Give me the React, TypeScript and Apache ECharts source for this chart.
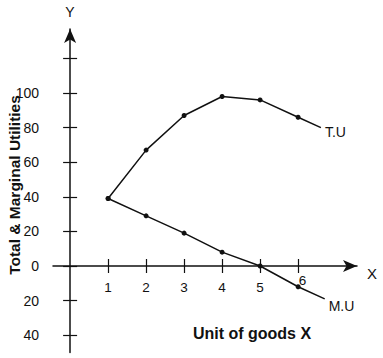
import React, { useEffect, useRef } from "react";
import * as echarts from "echarts";

const units = [1, 2, 3, 4, 5, 6];
const totalUtility = [39, 67, 87, 98, 96, 86];
const marginalUtility = [39, 29, 19, 8, 0, -12];
const tuTail = [6.6, 80];
const muTail = [6.7, -19];
const yTickValues = [-40, -20, 0, 20, 40, 60, 80, 100, 120];
const yLabelValues = [-40, -20, 0, 20, 40, 60, 80, 100];
const xTickValues = [1, 2, 3, 4, 5, 6];

const INK = "#111";
const FONT = "'Liberation Sans', Arial, sans-serif";

export default function App() {
  const ref = useRef<HTMLDivElement>(null);
  useEffect(() => {
    if (!ref.current) return;
    const chart = echarts.init(ref.current, undefined, { renderer: "svg" });
    const xMin = -0.45, xMax = 7.55, yMin = -50, yMax = 137;
    const baseX = {
      type: "value", min: xMin, max: xMax,
      splitLine: { show: false },
      axisLine: { onZero: true, lineStyle: { color: INK, width: 1.5 } },
    };
    const baseY = {
      type: "value", min: yMin, max: yMax,
      splitLine: { show: false },
      axisLine: { onZero: true, lineStyle: { color: INK, width: 1.5 } },
    };
    const lineSeries = (name: string, ys: number[], tail: number[], off: number[]) => ({
      name, type: "line",
      data: [
        ...units.map((u, i) => [u, ys[i]]),
        { value: tail, symbol: "none" },
      ],
      symbol: "circle", symbolSize: 5,
      itemStyle: { color: INK },
      lineStyle: { color: INK, width: 1.5 },
      endLabel: {
        show: true, formatter: name, offset: off, distance: 4,
        color: INK, fontSize: 14, fontFamily: FONT,
      },
      z: 5,
    });
    const lbl = { color: INK, fontSize: 13.5, fontFamily: FONT };
    chart.setOption({
      animation: false,
      backgroundColor: "#fff",
      grid: { left: 53, top: 29, width: 304, height: 323.5, outerBoundsMode: "none", containLabel: false },
      xAxis: [
        {
          ...baseX,
          position: "bottom",
          axisLine: { ...baseX.axisLine, symbol: ["none", "arrow"], symbolSize: [9, 14] },
          axisTick: { show: true, customValues: xTickValues, length: 7, lineStyle: { color: INK, width: 1.2 } },
          axisLabel: {
            show: true, customValues: xTickValues, margin: -79, ...lbl,
            formatter: (v: number) => (v === 6 ? "{six|6}" : "{n|" + v + "}"),
            rich: {
              n: { ...lbl, padding: [7, 0, 0, 0] },
              six: { ...lbl, padding: [0, 0, 0, 9] },
            },
          },
        },
        {
          ...baseX,
          position: "top",
          axisLine: { ...baseX.axisLine, show: false },
          axisTick: { show: true, customValues: xTickValues, length: 7, lineStyle: { color: INK, width: 1.2 } },
          axisLabel: { show: false },
        },
      ],
      yAxis: [
        {
          ...baseY,
          position: "left",
          axisLine: { ...baseY.axisLine, symbol: ["none", "arrow"], symbolSize: [9, 14] },
          axisTick: { show: true, customValues: yTickValues, length: 7, lineStyle: { color: INK, width: 1.2 } },
          axisLabel: {
            show: true, customValues: yLabelValues, margin: 14, color: INK, fontSize: 14, fontFamily: FONT,
            formatter: (v: number) => String(Math.abs(v)),
          },
        },
        {
          ...baseY,
          position: "right",
          axisLine: { ...baseY.axisLine, show: false },
          axisTick: { show: true, customValues: yTickValues, length: 7, lineStyle: { color: INK, width: 1.2 } },
          axisLabel: { show: false },
        },
      ],
      graphic: [
        { type: "text", x: 70, y: 12, style: { text: "Y", align: "center", verticalAlign: "middle", fontSize: 14, fontFamily: FONT, fill: INK } },
        { type: "text", x: 372, y: 273, style: { text: "X", align: "center", verticalAlign: "middle", fontSize: 15, fontFamily: FONT, fill: INK } },
        {
          type: "text", x: 14, y: 185, rotation: Math.PI / 2,
          style: { text: "Total & Marginal Utilities", align: "center", verticalAlign: "middle", fontSize: 15.5, fontWeight: "bold", fontFamily: FONT, fill: INK },
        },
        { type: "text", x: 252, y: 333, style: { text: "Unit of goods X", align: "center", verticalAlign: "middle", fontSize: 16, fontWeight: "bold", fontFamily: FONT, fill: INK } },
      ],
      series: [
        lineSeries("T.U", totalUtility, tuTail, [0, 4]),
        lineSeries("M.U", marginalUtility, muTail, [0, 7]),
      ],
    });
    return () => chart.dispose();
  }, []);
  return <div ref={ref} style={{ position: "fixed", left: 0, top: 0, width: 383, height: 358 }} />;
}
